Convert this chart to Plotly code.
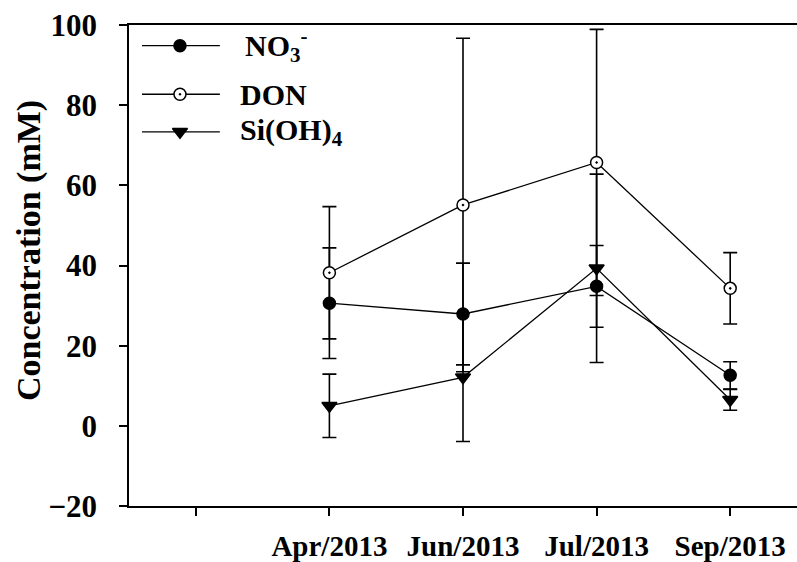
import plotly.graph_objects as go

# ---- data ----
categories = ["Apr/2013", "Jun/2013", "Jul/2013", "Sep/2013"]
x_pos = [2, 3, 4, 5]
tick_vals = [1, 2, 3, 4, 5]
tick_text = [""] + categories

no3 = [30.6, 27.9, 34.8, 12.6]
no3_err = [13.8, 12.7, 10.2, 3.4]
don = [38.2, 55.1, 65.7, 34.3]
don_err = [16.5, 41.6, 33.2, 8.9]
si = [5.0, 12.1, 39.3, 6.5]
si_err = [7.9, 16.0, 23.5, 2.6]

y_ticks = [-20, 0, 20, 40, 60, 80, 100]

FONT = "Liberation Serif, Times New Roman, serif"

fig = go.Figure()

def add_series(y, err, symbol, color, size, name):
    fig.add_trace(go.Scatter(
        x=x_pos, y=y, mode="lines+markers", name=name, showlegend=False,
        line=dict(color="black", width=1.3),
        marker=dict(symbol=symbol, size=size, color=color,
                    line=dict(color="black", width=1.5)),
        error_y=dict(type="data", array=err, visible=True, color="black",
                     thickness=1.6, width=7),
    ))

add_series(no3, no3_err, "circle", "black", 12, "NO3-")
add_series(don, don_err, "circle-dot", "white", 12, "DON")
add_series(si, si_err, "triangle-down", "black", 13, "Si(OH)4")

# ---- manual legend on an overlay axis ----
legend_rows = [0.957, 0.856, 0.778]
legend_syms = [("circle", "black", 12), ("circle-dot", "white", 12), ("triangle-down", "black", 13)]
legend_labels = ["NO<sub>3</sub><sup>-</sup>", "DON", "Si(OH)<sub>4</sub>"]
legend_text_x = [0.170, 0.163, 0.163]
lx0, lxm, lx1 = 0.0195, 0.0763, 0.136
for yr, (sym, col, sz), lab, tx in zip(legend_rows, legend_syms, legend_labels, legend_text_x):
    fig.add_trace(go.Scatter(x=[lx0, lx1], y=[yr, yr], mode="lines", xaxis="x2", yaxis="y2",
                             line=dict(color="black", width=1.3), showlegend=False, hoverinfo="skip"))
    fig.add_trace(go.Scatter(x=[lxm], y=[yr], mode="markers", xaxis="x2", yaxis="y2",
                             marker=dict(symbol=sym, size=sz, color=col, line=dict(color="black", width=1.5)),
                             showlegend=False, hoverinfo="skip"))
    fig.add_annotation(x=tx, y=yr, xref="paper", yref="paper", text=lab, showarrow=False,
                       xanchor="left", yanchor="middle",
                       font=dict(family=FONT, size=30, color="black", weight="bold"))

# y-axis title as annotation
fig.add_annotation(x=-0.1497, y=0.530, xref="paper", yref="paper", text="Concentration (mM)",
                   textangle=-90, showarrow=False, xanchor="center", yanchor="middle",
                   font=dict(family=FONT, size=34, color="black", weight="bold"))

fig.update_layout(
    width=797, height=562,
    margin=dict(l=129, r=0, t=25, b=56),
    paper_bgcolor="white", plot_bgcolor="white",
    font=dict(family=FONT, size=30, color="black", weight="bold"),
    showlegend=False,
    xaxis=dict(range=[0.5, 5.5], tickvals=tick_vals, ticktext=tick_text, automargin=False,
               showgrid=False, zeroline=False, showline=True, linecolor="black", linewidth=1.5,
               mirror=True, ticks="outside", ticklen=8, tickwidth=1.5, tickcolor="black",
               ticklabelstandoff=5,
               tickfont=dict(family=FONT, size=29, color="black", weight="bold")),
    yaxis=dict(range=[-20, 100], tickvals=y_ticks, automargin=False,
               showgrid=False, zeroline=False, showline=True, linecolor="black", linewidth=1.5,
               ticks="outside", ticklen=8, tickwidth=1.5, tickcolor="black",
               ticklabelstandoff=16,
               tickfont=dict(family=FONT, size=31, color="black", weight="bold")),
    xaxis2=dict(range=[0, 1], overlaying="x", visible=False),
    yaxis2=dict(range=[0, 1], overlaying="y", visible=False),
)

fig.write_html("out.html")
